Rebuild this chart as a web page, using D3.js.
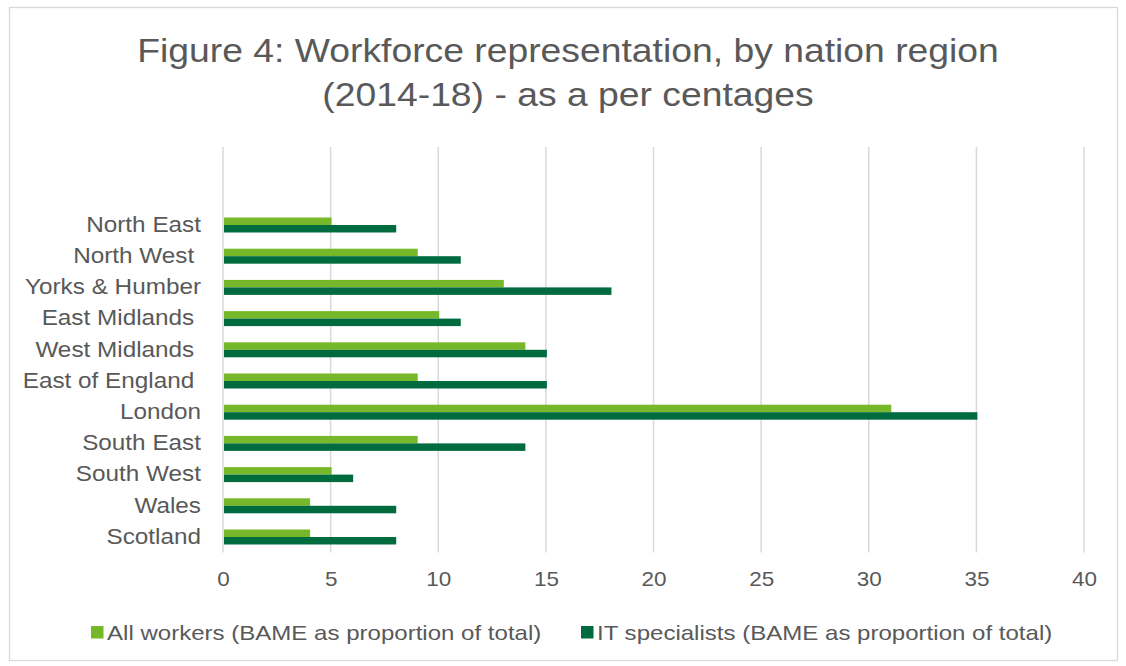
<!DOCTYPE html>
<html>
<head>
<meta charset="utf-8">
<script src="https://cdn.jsdelivr.net/npm/d3@7"></script>
<style>
  body { margin: 0; background: #fff; }
  svg text { font-family: "Liberation Sans", Arial, sans-serif; fill: #595959; white-space: pre; }
</style>
</head>
<body>
<div id="chart"></div>
<script>
// regions, top to bottom (some Excel labels carry a trailing space)
var regions = ["North East", "North West ", "Yorks & Humber", "East Midlands ", "West Midlands ",
               "East of England ", "London", "South East", "South West", "Wales", "Scotland"];
var allWorkers = [5, 9, 13, 10, 14, 9, 31, 9, 5, 4, 4];
var itSpecialists = [8, 11, 18, 11, 15, 15, 35, 14, 6, 8, 8];
var seriesNames = ["All workers (BAME as proportion of total)", "IT specialists (BAME as proportion of total)"];
var titleLines = ["Figure 4: Workforce representation, by nation region", "(2014-18) - as a per centages"];
var xTicks = [0, 5, 10, 15, 20, 25, 30, 35, 40];
var colors = ["#77b82a", "#006b3f"];

var W = 1126, H = 666;
var svg = d3.select("#chart").append("svg")
    .attr("width", W)
    .attr("height", H);

// the source picture has its text a little wider than Arial, stretch to match
function stretch(sel, k) {
    sel.each(function() {
        var w = this.getComputedTextLength();
        d3.select(this)
            .attr("textLength", w * k)
            .attr("lengthAdjust", "spacingAndGlyphs");
    });
}

// chart border
svg.append("rect")
    .attr("x", 9.5).attr("y", 7.5)
    .attr("width", 1108).attr("height", 653)
    .attr("fill", "#fff")
    .attr("stroke", "#d9d9d9")
    .attr("stroke-width", 1.3);

// title
svg.append("g").selectAll("text")
    .data(titleLines)
    .join("text")
    .attr("text-anchor", "middle")
    .attr("font-size", 33)
    .attr("x", 568)
    .attr("y", function(d, i) { return 62 + i * 44; })
    .text(function(d) { return d; })
    .call(stretch, 1.13);

var plot = {left: 223, right: 1084, top: 147, bottom: 552.6};

// Excel left two empty slots above the first region
var slots = ["", " "].concat(regions);

var x = d3.scaleLinear()
    .domain([0, 40])
    .range([plot.left, plot.right]);

var y = d3.scaleBand()
    .domain(slots)
    .range([plot.top, plot.bottom])
    .paddingInner(0.52)
    .paddingOuter(0.26);

// gridlines
svg.append("g")
    .selectAll("line")
    .data(xTicks)
    .join("line")
    .attr("x1", function(d) { return x(d); })
    .attr("x2", function(d) { return x(d); })
    .attr("y1", plot.top)
    .attr("y2", plot.bottom)
    .attr("stroke", "#d9d9d9")
    .attr("stroke-width", 1.5);

// x axis labels
var xaxis = svg.append("g")
    .attr("transform", "translate(0," + (plot.bottom + 10) + ")")
    .call(d3.axisBottom(x).tickValues(xTicks).tickSize(0).tickPadding(8));
xaxis.select(".domain").remove();
xaxis.selectAll("text")
    .attr("font-size", 21)
    .attr("fill", "#595959")
    .attr("font-family", "Liberation Sans, Arial, sans-serif")
    .call(stretch, 1.07);

// y axis labels
var yaxis = svg.append("g")
    .attr("transform", "translate(" + (plot.left - 12) + ",0)")
    .call(d3.axisLeft(y).tickValues(regions).tickSize(0).tickPadding(10));
yaxis.select(".domain").remove();
yaxis.selectAll("text")
    .attr("font-size", 21.5)
    .attr("fill", "#595959")
    .attr("font-family", "Liberation Sans, Arial, sans-serif")
    .style("white-space", "pre")
    .call(stretch, 1.13);

// bars
var bh = y.bandwidth() / 2;
var series = [allWorkers, itSpecialists];
series.forEach(function(vals, s) {
    svg.append("g")
        .selectAll("rect")
        .data(vals)
        .join("rect")
        .attr("x", x(0) + 1)
        .attr("y", function(d, i) { return y(regions[i]) + s * bh; })
        .attr("width", function(d) { return x(d) - x(0); })
        .attr("height", bh)
        .attr("fill", colors[s]);
});

// legend
var legendPos = [91, 581];
var legend = svg.append("g");
seriesNames.forEach(function(name, i) {
    legend.append("rect")
        .attr("x", legendPos[i]).attr("y", 626)
        .attr("width", 12.5).attr("height", 12.5)
        .attr("fill", colors[i]);
    legend.append("text")
        .attr("x", legendPos[i] + 16)
        .attr("y", 640)
        .attr("font-size", 21)
        .text(name)
        .call(stretch, 1.145);
});
</script>
</body>
</html>
